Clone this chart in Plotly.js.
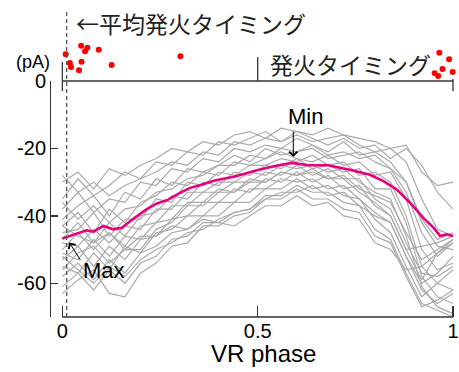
<!DOCTYPE html>
<html>
<head>
<meta charset="utf-8">
<script src="https://cdn.plot.ly/plotly-3.0.1.min.js"></script>
<style>html,body{margin:0;padding:0;background:#fff;}#chart{width:459px;height:372px;}</style>
</head>
<body>
<div id="chart"></div>
<script>
// VR phase grid for individual traces
var phaseGrid = [0, 0.04, 0.08, 0.12, 0.16, 0.2, 0.24, 0.28, 0.32, 0.36, 0.4, 0.44, 0.48, 0.52, 0.56, 0.6, 0.64, 0.68, 0.72, 0.76, 0.8, 0.84, 0.88, 0.92, 0.96, 1.0];
// individual cycles (pA)
var trace01 = [-30,-27,-32,-26,-28,-25,-23,-20,-21,-18,-19,-16,-15,-17,-14,-15,-16,-14,-16,-17,-18,-20,-19,-27,-31,-30];
var trace02 = [-35,-29,-34,-31,-27,-29,-24,-25,-21,-22,-18,-19,-17,-15,-18,-16,-18,-17,-16,-19,-21,-20,-24,-35,-44,-46];
var trace03 = [-38,-33,-39,-35,-36,-30,-31,-26,-27,-23,-24,-20,-21,-19,-20,-17,-19,-21,-18,-22,-21,-24,-30,-41,-47,-45];
var trace04 = [-41,-37,-34,-40,-33,-35,-29,-31,-26,-27,-25,-22,-24,-20,-22,-21,-20,-23,-22,-21,-24,-26,-33,-45,-52,-48];
var trace05 = [-43,-39,-45,-38,-42,-36,-34,-30,-31,-27,-28,-24,-25,-23,-21,-23,-24,-22,-25,-24,-28,-27,-35,-50,-56,-54];
var trace06 = [-45,-44,-39,-46,-41,-41,-35,-36,-30,-31,-27,-28,-25,-25,-23,-24,-22,-25,-24,-28,-27,-30,-40,-55,-60,-62];
var trace07 = [-47,-42,-48,-42,-46,-40,-39,-34,-35,-30,-31,-27,-28,-25,-26,-23,-26,-25,-27,-26,-32,-32,-42,-58,-64,-66];
var trace08 = [-48,-49,-44,-48,-43,-44,-38,-38,-33,-33,-30,-30,-27,-28,-25,-26,-25,-27,-26,-30,-33,-35,-46,-61,-67,-69];
var trace09 = [-50,-45,-50,-45,-49,-43,-42,-37,-37,-33,-33,-30,-30,-27,-28,-25,-28,-26,-29,-29,-35,-38,-48,-57,-58,-55];
var trace10 = [-51,-53,-47,-52,-46,-47,-42,-41,-36,-36,-32,-33,-29,-30,-27,-28,-27,-29,-28,-32,-34,-36,-45,-53,-50,-47];
var trace11 = [-53,-49,-55,-49,-53,-47,-46,-41,-40,-36,-36,-32,-33,-29,-30,-27,-30,-28,-32,-31,-37,-40,-50,-49,-48,-46];
var trace12 = [-55,-57,-51,-56,-49,-51,-45,-44,-40,-40,-36,-36,-32,-32,-29,-30,-29,-32,-31,-35,-39,-42,-52,-60,-57,-52];
var trace13 = [-58,-54,-59,-53,-57,-51,-49,-45,-44,-40,-40,-36,-36,-32,-32,-29,-32,-31,-34,-35,-41,-45,-55,-64,-60,-56];
var trace14 = [-61,-57,-62,-56,-60,-54,-52,-47,-46,-42,-42,-39,-38,-34,-34,-31,-33,-33,-36,-37,-44,-47,-57,-66,-68,-70];
var trace15 = [-63,-59,-56,-63,-64,-57,-54,-49,-48,-43,-43,-40,-39,-35,-35,-32,-35,-35,-38,-39,-46,-48,-58,-67,-65,-62];
var trace16 = [-43,-46,-48,-45,-50,-46,-46,-43,-44,-41,-42,-43,-40,-37,-37,-34,-37,-36,-40,-41,-48,-50,-56,-55,-51,-48];
var trace17 = [-36,-41,-37,-42,-38,-37,-33,-32,-29,-28,-25,-25,-22,-23,-20,-21,-19,-22,-21,-23,-22,-26,-30,-42,-49,-50];
var trace18 = [-56,-51,-49,-54,-50,-50,-44,-42,-37,-37,-33,-33,-30,-30,-27,-28,-26,-29,-29,-33,-36,-40,-50,-59,-51,-47];
var trace19 = [-28,-33,-30,-34,-31,-29,-27,-24,-25,-21,-22,-18,-19,-17,-18,-15,-17,-19,-17,-20,-19,-23,-20,-25,-33,-38];
var trace20 = [-52,-56,-60,-55,-58,-53,-50,-48,-45,-44,-41,-39,-38,-35,-33,-33,-31,-34,-33,-37,-40,-42,-52,-62,-66,-63];
var cycles = [trace01,trace02,trace03,trace04,trace05,trace06,trace07,trace08,trace09,trace10,trace11,trace12,trace13,trace14,trace15,trace16,trace17,trace18,trace19,trace20];

// average trace (pA)
var meanX = [0, 0.045, 0.062, 0.08, 0.105, 0.13, 0.152, 0.18, 0.216, 0.241, 0.271, 0.301, 0.327, 0.352, 0.39, 0.442, 0.493, 0.544, 0.587, 0.63, 0.68, 0.736, 0.787, 0.822, 0.856, 0.89, 0.924, 0.95, 0.967, 0.984, 1];
var meanY = [-46.7, -45, -44.3, -44.7, -43, -44, -43.5, -41, -38, -36.4, -35.2, -33.2, -31.7, -30.9, -29.5, -28.3, -26.6, -25.2, -24.3, -25, -25, -26.3, -27.8, -29.7, -32.2, -36.1, -40.6, -43.5, -46, -45.5, -46];

// firing timings (phase) and raster jitter row
var spikePhase = [0.0085, 0.048, 0.064, 0.058, 0.093, 0.019, 0.022, 0.049, 0.0425, 0.126, 0.302, 0.965, 0.990, 0.973, 0.953, 0.962, 0.999];
var spikeRow   = [3.3, 4.36, 4.1, 3.67, 3.86, 2.22, 1.73, 2.38, 1.32, 1.98, 3.05, 3.5, 2.7, 1.48, 0.95, 0.62, 1.1];
var meanPhase = 0.011;

var xTicks = [0, 0.5, 1];
var xTickText = ['0', '0.5', '1'];
var yTicks = [0, -20, -40, -60];
var yTickText = ['0', '-20', '-40', '-60'];

var data = [];
cycles.forEach(function(c){
  data.push({x: phaseGrid, y: c, type: 'scatter', mode: 'lines',
    line: {color: '#aaaaaa', width: 1.2}, hoverinfo: 'skip', showlegend: false, xaxis: 'x', yaxis: 'y'});
});
data.push({x: meanX, y: meanY, type: 'scatter', mode: 'lines',
  line: {color: '#e5007f', width: 2.6}, showlegend: false, xaxis: 'x', yaxis: 'y'});
data.push({x: spikePhase, y: spikeRow, type: 'scatter', mode: 'markers',
  marker: {color: '#ff0000', size: 6}, cliponaxis: false, showlegend: false, xaxis: 'x', yaxis: 'y2'});

var W = 405, H = 317;
function px(p){ return (p - 50) / W; }
function py(p){ return (H - p) / H; }
var ax = '#333333';
var fJP = 'Noto Sans CJK JP, sans-serif';
var fEN = 'Liberation Sans, Arial, sans-serif';

var layout = {
  width: 459, height: 372,
  margin: {l: 50, r: 4, t: 0, b: 55},
  paper_bgcolor: '#fff', plot_bgcolor: 'rgba(0,0,0,0)',
  showlegend: false,
  font: {family: fEN, color: '#000'},
  xaxis: {range: [-0.0317, 1.0051], tickvals: xTicks, ticktext: xTickText, ticks: 'inside', ticklen: 11,
    tickcolor: ax, tickwidth: 1.3, showline: false, zeroline: false, showgrid: false,
    tickfont: {size: 20, family: fEN, color: '#000'}, anchor: 'y', fixedrange: true},
  yaxis: {domain: [0, py(81)], range: [-70, 0], tickvals: yTicks, ticktext: yTickText, ticks: 'inside', ticklen: 7,
    tickcolor: ax, tickwidth: 1.3, showline: true, linecolor: ax, linewidth: 1.3, zeroline: false, showgrid: false,
    tickfont: {size: 20, family: fEN, color: '#000'}, anchor: 'free', position: 0},
  yaxis2: {domain: [py(81), 1], range: [0, 10], visible: false, anchor: 'x'},
  shapes: [
    {type: 'line', xref: 'x', yref: 'paper', x0: 0, x1: 1, y0: 0, y1: 0, line: {color: ax, width: 1.3}},
    {type: 'line', xref: 'x', yref: 'paper', x0: 0, x1: 1, y0: py(81), y1: py(81), line: {color: ax, width: 1.3}},
    {type: 'line', xref: 'x', yref: 'paper', x0: 0, x1: 0, y0: py(62), y1: py(91), line: {color: ax, width: 1.3}},
    {type: 'line', xref: 'x', yref: 'paper', x0: 0.5, x1: 0.5, y0: py(57), y1: py(81), line: {color: ax, width: 1.3}},
    {type: 'line', xref: 'x', yref: 'paper', x0: 1, x1: 1, y0: py(79), y1: py(91), line: {color: ax, width: 1.3}},
    {type: 'line', xref: 'x', yref: 'paper', x0: meanPhase, x1: meanPhase, y0: 0, y1: py(10), line: {color: '#555', width: 1.3, dash: '4px,3px'}}
  ],
  annotations: [
    {text: '←平均発火タイミング', xref: 'paper', yref: 'paper', x: px(74), y: py(23), xanchor: 'left', yanchor: 'middle', showarrow: false, font: {family: fJP, size: 23, color: '#222'}},
    {text: '発火タイミング', xref: 'paper', yref: 'paper', x: px(268), y: py(64), xanchor: 'left', yanchor: 'middle', showarrow: false, font: {family: fJP, size: 23, color: '#222'}},
    {text: '(pA)', xref: 'paper', yref: 'paper', x: px(33), y: py(62), xanchor: 'center', yanchor: 'middle', showarrow: false, font: {family: fEN, size: 18, color: '#000'}},
    {text: 'Min', xref: 'paper', yref: 'paper', x: px(305.5), y: py(116.5), xanchor: 'center', yanchor: 'middle', showarrow: false, font: {family: fEN, size: 22, color: '#000'}},
    {text: 'Max', xref: 'paper', yref: 'paper', x: px(104), y: py(270), xanchor: 'center', yanchor: 'middle', showarrow: false, font: {family: fEN, size: 22, color: '#000'}},
    {text: 'VR phase', xref: 'paper', yref: 'paper', x: px(263.7), y: py(353), xanchor: 'center', yanchor: 'middle', showarrow: false, font: {family: fEN, size: 24, color: '#000'}},
    {text: '', xref: 'paper', yref: 'paper', x: px(293.3), y: py(157), showarrow: true, ax: 0, ay: -27, arrowhead: 4, arrowsize: 1.6, arrowwidth: 1, arrowcolor: '#000', standoff: 0},
    {text: '', xref: 'paper', yref: 'paper', x: px(69.3), y: py(242.5), showarrow: true, ax: 12, ay: 19, arrowhead: 4, arrowsize: 1.6, arrowwidth: 1, arrowcolor: '#000', standoff: 0}
  ]
};

Plotly.newPlot('chart', data, layout, {displayModeBar: false, staticPlot: true});
</script>
</body>
</html>
